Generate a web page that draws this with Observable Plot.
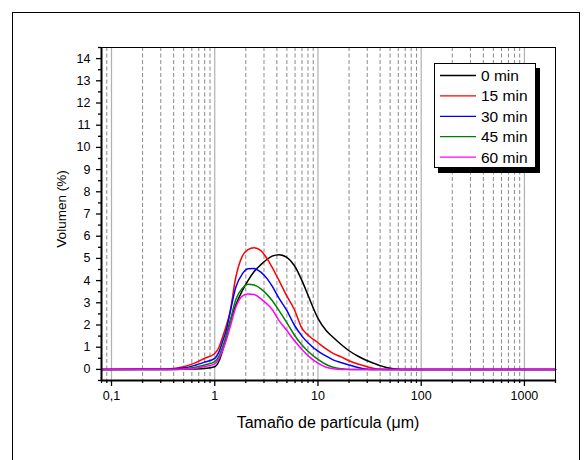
<!DOCTYPE html>
<html><head><meta charset="utf-8">
<script src="https://cdn.jsdelivr.net/npm/d3@7"></script>
<script src="https://cdn.jsdelivr.net/npm/@observablehq/plot@0.6"></script>
<style>body{margin:0;background:#fff;}</style>
</head><body><div id="chart"></div>
<script>
// particle size (µm)
const sizes = [0.08,0.3,0.4,0.5,0.63,0.8,1.0,1.1,1.2,1.3,1.4,1.6,1.85,2.1,2.4,2.8,3.2,3.6,4.2,5.0,5.9,7.0,8.0,10,12,14,17,20,25,30,35,40,50,60,70,100,2000];
// volume (%) per time
const min0  = [0,0,0,0.01,0.02,0.04,0.12,0.38,0.9,1.5,2.1,2.9,3.55,4.0,4.4,4.72,4.95,5.1,5.17,5.05,4.68,4.0,3.35,2.3,1.75,1.45,1.1,0.84,0.57,0.39,0.27,0.17,0.05,0.01,0,0,0];
const min15 = [0,0.01,0.04,0.12,0.27,0.5,0.72,1.0,1.5,2.0,2.55,4.15,5.1,5.4,5.48,5.35,5.0,4.6,4.0,3.3,2.7,1.85,1.55,1.2,0.92,0.72,0.55,0.39,0.23,0.12,0.04,0.01,0,0,0,0,0];
const min30 = [0,0.01,0.02,0.06,0.17,0.33,0.5,0.8,1.3,1.8,2.5,3.7,4.3,4.53,4.55,4.38,4.1,3.75,3.2,2.65,2.0,1.5,1.2,0.82,0.6,0.43,0.3,0.2,0.07,0.01,0,0,0,0,0,0,0];
const min45 = [0,0,0.01,0.03,0.09,0.2,0.35,0.6,1.05,1.55,2.1,3.15,3.65,3.84,3.8,3.63,3.38,3.1,2.65,2.1,1.55,1.1,0.82,0.45,0.22,0.1,0.03,0,0,0,0,0,0,0,0,0,0];
const min60 = [0,0,0,0.01,0.04,0.13,0.25,0.5,0.9,1.35,1.85,2.8,3.3,3.4,3.37,3.18,2.95,2.7,2.2,1.75,1.3,0.9,0.62,0.28,0.1,0.03,0,0,0,0,0,0,0,0,0,0,0];

const seriesNames = ["0 min","15 min","30 min","45 min","60 min"];
const seriesColors = ["#000000","#ff0000","#0000ff","#008000","#ff00ff"];
const seriesValues = [min0,min15,min30,min45,min60];

const xMajorTicks = [0.1,1,10,100,1000];
const xMajorLabels = ["0,1","1","10","100","1000"];
const yMajorTicks = [0,1,2,3,4,5,6,7,8,9,10,11,12,13,14];

const xMinorTicks = [0.08,0.09];
[0.1,1,10,100].forEach(dec => { for (let k = 2; k <= 9; k++) xMinorTicks.push(+(dec*k).toPrecision(3)); });
xMinorTicks.push(2000);
const xMinorGrid = xMinorTicks.filter(v => v > 0.08 && v < 2000);
const yMinorTicks = d3.range(-0.5, 14.6, 1);

const rows = [];
seriesNames.forEach((name, s) => sizes.forEach((x, i) => rows.push({series: name, size: x, vol: seriesValues[s][i]})));

const labelMap = new Map(xMajorTicks.map((v, i) => [v, xMajorLabels[i]]));

const plot = Plot.plot({
  width: 588, height: 460,
  marginLeft: 101, marginRight: 33, marginTop: 47, marginBottom: 80,
  style: {fontFamily: "'Liberation Sans', Arial, sans-serif", fontSize: "12.5px", color: "#000", background: "#fff"},
  x: {type: "log", domain: [0.08, 2000], label: null},
  y: {domain: [-0.5, 14.5], label: null},
  color: {domain: seriesNames, range: seriesColors},
  marks: [
    Plot.ruleX(xMinorGrid, {stroke: "#8a8a8a", strokeWidth: 1, strokeDasharray: "4,2.5"}),
    Plot.ruleX(xMajorTicks, {stroke: "#b0b0b0", strokeWidth: 1.2}),
    Plot.line(rows, {x: "size", y: "vol", z: "series", stroke: "series", strokeWidth: 1.5, curve: "monotone-x"}),
    Plot.frame({stroke: "#000", strokeWidth: 1}),
    Plot.axisX(xMinorTicks, {tickSize: 3, tickFormat: () => "", strokeWidth: 1.3, label: null}),
    Plot.axisX(xMajorTicks, {tickSize: 6, tickPadding: 5, tickFormat: d => labelMap.get(d), strokeWidth: 1.3, fontSize: 12.5, label: null}),
    Plot.axisY(yMinorTicks, {tickSize: 3, tickFormat: () => "", strokeWidth: 1.3, label: null}),
    Plot.axisY(yMajorTicks, {tickSize: 5, tickPadding: 6, strokeWidth: 1.3, fontSize: 12.5, label: null}),
    Plot.ruleY([-0.5], {stroke: "#000", strokeWidth: 2}),
    Plot.ruleX([0.08], {stroke: "#000", strokeWidth: 2})
  ]
});

const svg = d3.select(plot);
// outer frame
svg.insert("rect", ":first-child").attr("x", 12.5).attr("y", 12.5).attr("width", 567).attr("height", 470)
  .attr("fill", "none").attr("stroke", "#000").attr("stroke-width", 1);
// axis titles
svg.append("text").attr("x", 328).attr("y", 428).attr("text-anchor", "middle")
  .attr("font-family", "'Liberation Sans', Arial, sans-serif").attr("font-size", 16).attr("fill", "#000")
  .text("Tamaño de partícula (μm)");
svg.append("text").attr("transform", "translate(66,209) rotate(-90)").attr("text-anchor", "middle")
  .attr("font-family", "'Liberation Sans', Arial, sans-serif").attr("font-size", 13.5).attr("fill", "#000")
  .text("Volumen (%)");
// legend
const lg = svg.append("g").attr("font-family", "'Liberation Sans', Arial, sans-serif").attr("font-size", 15.5).attr("text-anchor", "start");
lg.append("rect").attr("x", 438).attr("y", 68).attr("width", 102).attr("height", 105).attr("fill", "#000");
lg.append("rect").attr("x", 434.5).attr("y", 63.5).attr("width", 101).attr("height", 104).attr("fill", "#fff").attr("stroke", "#000");
seriesNames.forEach((name, i) => {
  const yy = 75.5 + i * 20.4;
  lg.append("line").attr("x1", 440).attr("x2", 476).attr("y1", yy).attr("y2", yy).attr("stroke", seriesColors[i]).attr("stroke-width", 1.3);
  lg.append("text").attr("x", 481).attr("y", yy).attr("dy", "0.36em").attr("text-anchor", "start").attr("fill", "#000").text(name);
});
document.getElementById("chart").appendChild(plot);
</script>
</body></html>
